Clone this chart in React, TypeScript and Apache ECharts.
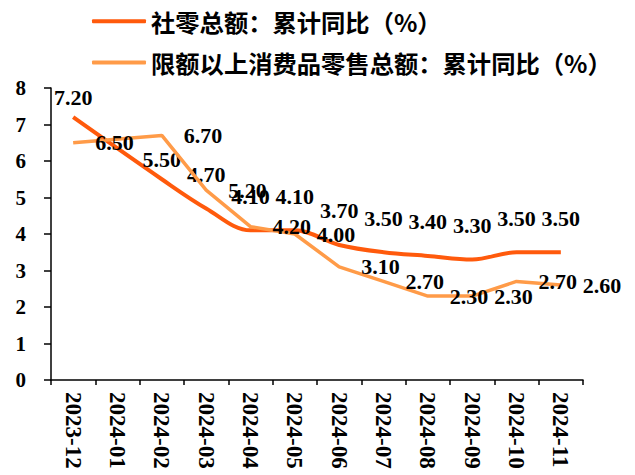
import React, { useEffect, useRef } from "react";
import * as echarts from "echarts";

const categories = [
  "2023-12", "2024-01", "2024-02", "2024-03", "2024-04", "2024-05",
  "2024-06", "2024-07", "2024-08", "2024-09", "2024-10", "2024-11",
];
const seriesNames = ["社零总额：累计同比（%）", "限额以上消费品零售总额：累计同比（%）"];
const retailTotal = [7.2, null, 5.5, 4.7, 4.1, 4.1, 3.7, 3.5, 3.4, 3.3, 3.5, 3.5];
const aboveQuota = [6.5, null, 6.7, 5.2, 4.2, 4.0, 3.1, 2.7, 2.3, 2.3, 2.7, 2.6];
const yTicks = { min: 0, max: 8, interval: 1 };

// label styling (distance above point for the first series)
const retailLabelDistance = [9, 23, 9, 23, 23, 23, 23, 23, 23, 23, 23, 23];

const C1 = "#FF5A0C";
const C2 = "#FF9B48";
const NUM_FONT = "Liberation Serif";
const CJK_FONT = "Noto Sans CJK SC";

export default function App() {
  const ref = useRef<HTMLDivElement>(null);
  useEffect(() => {
    if (!ref.current) return;
    const chart = echarts.init(ref.current, undefined, { renderer: "svg" });
    const numLabel = {
      show: true,
      color: "#000",
      fontFamily: NUM_FONT,
      fontWeight: "bold",
      fontSize: 22,
      formatter: (p: any) => Number(p.value).toFixed(2),
    };
    chart.setOption({
      animation: false,
      backgroundColor: "#fff",
      legend: {
        orient: "vertical",
        left: 92,
        top: 9,
        padding: 0,
        itemGap: 17,
        itemWidth: 54,
        itemHeight: 4,
        icon: "roundRect",
        textStyle: {
          color: "#000",
          fontFamily: CJK_FONT,
          fontWeight: "bold",
          fontSize: 24.3,
          lineHeight: 24,
        },
        data: [
          { name: seriesNames[0], itemStyle: { color: C1 } },
          { name: seriesNames[1], itemStyle: { color: C2 } },
        ],
      },
      grid: { left: 51, right: 52, top: 88, bottom: 95, containLabel: false },
      xAxis: {
        type: "category",
        data: categories,
        boundaryGap: true,
        axisLine: { lineStyle: { color: "#000", width: 1.5 } },
        axisTick: { show: true, length: 5, lineStyle: { color: "#000", width: 1.5 } },
        axisLabel: {
          rotate: -90,
          margin: 12,
          color: "#000",
          fontFamily: NUM_FONT,
          fontWeight: "bold",
          fontSize: 23,
          interval: 0,
        },
      },
      yAxis: {
        type: "value",
        min: yTicks.min,
        max: yTicks.max,
        interval: yTicks.interval,
        axisLine: { show: true, lineStyle: { color: "#000", width: 1.5 } },
        axisTick: { show: true, length: 7, lineStyle: { color: "#000", width: 1.5 } },
        splitLine: { show: false },
        axisLabel: {
          margin: 25,
          color: "#000",
          fontFamily: NUM_FONT,
          fontWeight: "bold",
          fontSize: 21,
        },
      },
      series: [
        {
          name: seriesNames[0],
          type: "line",
          smooth: 0.35,
          connectNulls: true,
          symbol: "circle",
          symbolSize: 0,
          showSymbol: true,
          color: C1,
          itemStyle: { color: C1 },
          lineStyle: { color: C1, width: 4 },
          data: retailTotal.map((v, i) =>
            v == null ? null : { value: v, label: { distance: retailLabelDistance[i] } }
          ),
          label: { ...numLabel, position: "top" },
          z: 2,
        },
        {
          name: seriesNames[1],
          type: "line",
          smooth: false,
          connectNulls: true,
          symbol: "circle",
          symbolSize: 0,
          showSymbol: true,
          color: C2,
          itemStyle: { color: C2 },
          lineStyle: { color: C2, width: 3.5 },
          data: aboveQuota,
          label: { ...numLabel, position: "right", distance: 22 },
          z: 3,
        },
      ],
    });
    return () => chart.dispose();
  }, []);
  return (
    <div
      ref={ref}
      style={{ position: "absolute", left: 0, top: 0, width: 635, height: 475 }}
    />
  );
}
